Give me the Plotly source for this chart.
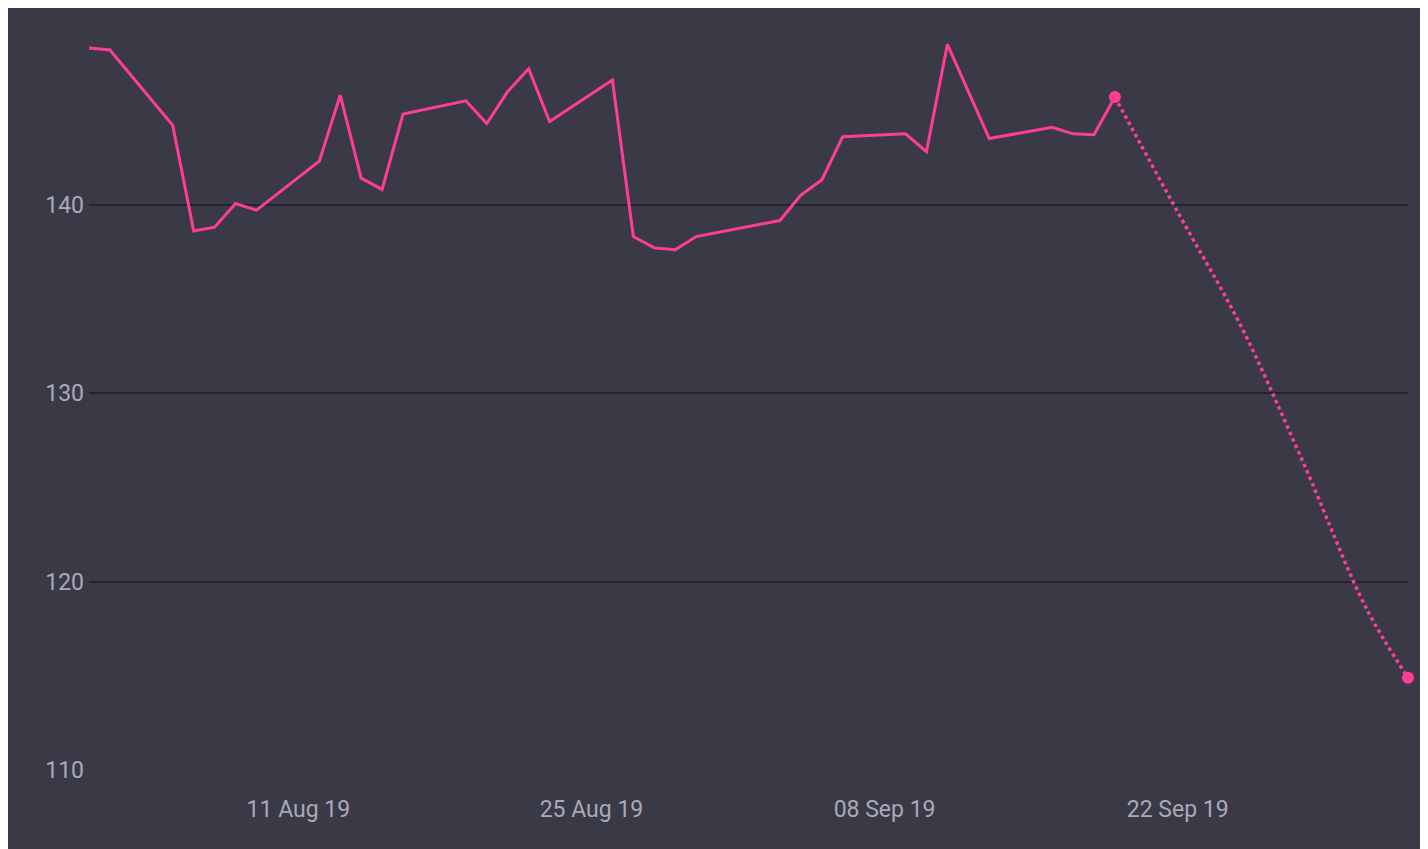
import plotly.graph_objects as go

dates = ["2019-08-01","2019-08-02","2019-08-05","2019-08-06","2019-08-07","2019-08-08","2019-08-09",
         "2019-08-12","2019-08-13","2019-08-14","2019-08-15","2019-08-16",
         "2019-08-19","2019-08-20","2019-08-21","2019-08-22","2019-08-23",
         "2019-08-26","2019-08-27","2019-08-28","2019-08-29","2019-08-30",
         "2019-09-03","2019-09-04","2019-09-05","2019-09-06",
         "2019-09-09","2019-09-10","2019-09-11","2019-09-12","2019-09-13",
         "2019-09-16","2019-09-17","2019-09-18","2019-09-19"]
values = [148.3,148.2,144.2,138.6,138.8,140.05,139.7,
          142.3,145.8,141.4,140.8,144.8,
          145.5,144.3,146.0,147.2,144.4,
          146.6,138.3,137.7,137.6,138.3,
          139.15,140.5,141.3,143.6,
          143.75,142.8,148.5,146.0,143.5,
          144.1,143.75,143.7,145.7]
fc_dates = ["2019-09-19","2019-09-22","2019-09-25","2019-09-28","2019-10-01","2019-10-03"]
fc_values = [145.7,139.6,133.6,126.3,118.6,114.9]
end_dates = ["2019-09-19","2019-10-03"]
end_values = [145.7,114.9]
tick_dates = ["2019-08-11","2019-08-25","2019-09-08","2019-09-22"]
tick_labels = ["11 Aug 19","25 Aug 19","08 Sep 19","22 Sep 19"]
y_ticks = [110,120,130,140]

pink = "#ff3d96"
fig = go.Figure()
fig.add_trace(go.Scatter(x=dates, y=values, mode="lines", line=dict(color=pink, width=3)))
fig.add_trace(go.Scatter(x=fc_dates, y=fc_values, mode="lines", cliponaxis=False,
                         line=dict(color=pink, width=3.5, dash="dot", shape="spline")))
fig.add_trace(go.Scatter(x=end_dates, y=end_values, mode="markers", cliponaxis=False,
                         marker=dict(color=pink, size=12)))
fig.update_layout(
    width=1420, height=841, showlegend=False,
    paper_bgcolor="#3a3a47", plot_bgcolor="#3a3a47",
    margin=dict(l=81, r=20, t=8, b=78),
    font=dict(family="Roboto", size=23, color="#a9a9b8"),
    xaxis=dict(range=["2019-08-01","2019-10-03"], tickvals=tick_dates, ticktext=tick_labels,
               showgrid=False, zeroline=False, showline=False, ticks="", ticklabelstandoff=22),
    yaxis=dict(range=[109.95,150], tickvals=y_ticks, showgrid=True, gridcolor="#24242c",
               gridwidth=1.5, zeroline=False, ticks="", ticklabelstandoff=4),
)
fig.write_html("out.html")
